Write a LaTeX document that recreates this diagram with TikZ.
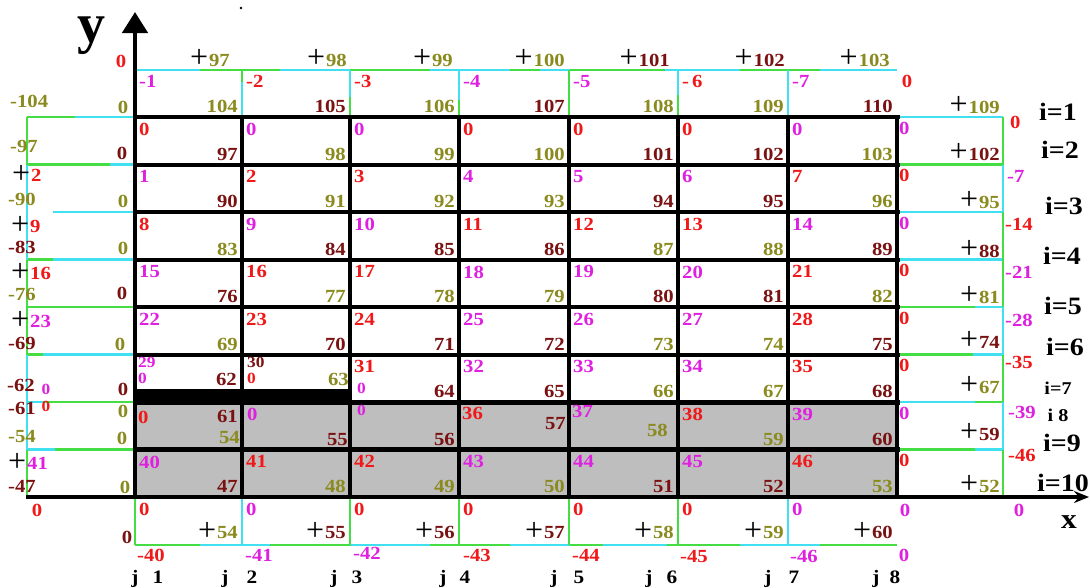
\documentclass[tikz,border=0pt]{standalone}
\usepackage{fontspec}
\usetikzlibrary{arrows.meta}
\newfontfamily\nf[FakeStretch=1.12]{Liberation Serif Bold}
\newfontfamily\pf{Liberation Serif}
\definecolor{rd}{HTML}{F01818}
\definecolor{mg}{HTML}{E020E0}
\definecolor{ol}{HTML}{8A8A1E}
\definecolor{mr}{HTML}{7A1212}
\definecolor{cy}{HTML}{40E0F0}
\definecolor{gn}{HTML}{44DD44}
\definecolor{gy}{HTML}{BEBEBE}
\newcommand\plusmark{{\pf\fontsize{32}{32}\selectfont\color{black}\lower1.5pt\hbox{+}\kern1pt}}
\newcommand\colx[1]{\ifcase#1\or135\or242\or350\or459\or569\or678\or788\or897\fi}
\newcommand\cell[6]{%
  \edef\xl{\colx{#1}}%
  \edef\xr{\colx{\numexpr#1+1\relax}}%
  \pgfmathsetmacro\yt{69.5+47.5*#2}%
  \pgfmathsetmacro\yb{\yt+47.5}%
  \node[lbl,text=#4,anchor=north west] (a#1-#2) at (\xl+4,\yt+6) {#3};%
  \node[lbl,text=#6,anchor=south east] (b#1-#2) at (\xr-4,\yb-4) {#5};%
}
\begin{document}
\begin{tikzpicture}[x=1pt,y=-1pt,
  lbl/.style={inner sep=0pt,font=\nf\fontsize{18.5}{18.5}\selectfont},
  sml/.style={inner sep=0pt,font=\nf\fontsize{15.5}{15.5}\selectfont},
  big/.style={inner sep=0pt,font=\nf\fontsize{25}{25}\selectfont},
  mid/.style={inner sep=0pt,font=\nf\fontsize{18}{18}\selectfont},
  jl/.style={inner sep=0pt,font=\nf\fontsize{19}{19}\selectfont},
  cl/.style={line width=2.5pt},
  blk/.style={line width=4pt,black},
  blkv/.style={line width=4.5pt,black}]
\useasboundingbox (0,0) rectangle (1091,587);
\fill[white] (0,0) rectangle (1091,587);
% gray region
\fill[gy] (135,402) rectangle (897,497);
% coloured lines: top row
\foreach \a/\b/\c in {135/200/cy,200/280/gn,280/350/cy,350/430/gn,430/510/cy,510/540/gn,540/570/cy,570/665/gn,665/740/cy,740/820/gn,820/897/cy}
  \draw[cl,\c] (\a,70) -- (\b,70);
\foreach \x/\a/\b/\c in {242/70/82/gn,242/82/117/cy,350/70/97/cy,350/97/117/gn,459/70/100/cy,459/100/117/gn,569/70/117/gn,678/70/95/cy,678/95/117/gn,788/70/117/cy}
  \draw[cl,\c] (\x,\a) -- (\x,\b);
% left column
\foreach \y/\a/\b/\c in {117/27/75/gn,117/75/133/cy,164.5/27/110/gn,164.5/110/133/cy,212/53/133/cy,259.5/27/53/gn,259.5/53/133/cy,307/27/133/gn,354.5/27/43/gn,354.5/43/133/cy,402/27/43/cy,402/43/133/gn,449.5/27/55/cy,449.5/55/133/gn}
  \draw[cl,\c] (\a,\y) -- (\b,\y);
\foreach \a/\b/\c in {117/164.5/gn,164.5/259.5/cy,259.5/354.5/gn,354.5/449.5/cy,449.5/497/gn}
  \draw[cl,\c] (27,\a) -- (27,\b);
% right column
\foreach \y/\a/\b/\c in {117/899/1003/cy,164.5/899/1003/gn,212/899/1003/cy,259.5/899/1003/cy,307/899/975/gn,307/975/1003/cy,354.5/899/973/gn,354.5/973/1003/cy,402/899/975/cy,402/975/1003/gn,449.5/899/975/gn,449.5/975/1003/cy}
  \draw[cl,\c] (\a,\y) -- (\b,\y);
\foreach \a/\b/\c in {117/164.5/gn,164.5/212/cy,212/307/gn,307/354.5/cy,354.5/402/gn,402/449.5/cy,449.5/497/gn}
  \draw[cl,\c] (1003,\a) -- (1003,\b);
% bottom row
\foreach \a/\b/\c in {135/200/gn,200/270/cy,270/350/gn,350/430/cy,430/510/gn,510/570/cy,570/603/gn,603/667/cy,667/740/gn,740/820/cy,820/897/gn}
  \draw[cl,\c] (\a,545) -- (\b,545);
\foreach \x/\c in {135/gn,242/cy,350/gn,459/gn,569/gn,678/gn,788/cy}
  \draw[cl,\c] (\x,497) -- (\x,545);
% black grid
\foreach \k in {1,...,6}
  \draw[blk] (133,{69.5+47.5*\k}) -- (899.5,{69.5+47.5*\k});
\foreach \k in {7,8}
  \draw[blk,line width=5pt] (133,{69.5+47.5*\k}) -- (899.5,{69.5+47.5*\k});
\foreach \x in {242,350,459,569,678,788,897}
  \draw[blkv] (\x,115) -- (\x,499);
\fill[black] (133,389) rectangle (350,403);
% axes
\draw[line width=4.5pt,-{Triangle[width=25pt,length=21pt]}] (135,499) -- (135,12);
\draw[line width=4.5pt,-{Stealth[length=15pt,width=12pt]}] (26,497) -- (1089,497);
\fill[black] (241,8) circle (1.3pt);
\node[inner sep=0pt,font=\pf\bfseries\fontsize{56}{56}\selectfont] (ylab) at (91,36) {y};
\node[inner sep=0pt,font=\nf\fontsize{28}{28}\selectfont] (xlab) at (1069,522) {x};
% top row cells
\cell{1}{0}{-1}{mg}{104}{ol}
\cell{2}{0}{-2}{rd}{105}{mr}
\cell{3}{0}{-3}{rd}{106}{ol}
\cell{4}{0}{-4}{mg}{107}{mr}
\cell{5}{0}{-5}{mg}{108}{ol}
\cell{6}{0}{-\,6}{rd}{109}{ol}
\cell{7}{0}{-7}{mg}{110}{mr}
% row 1
\cell{1}{1}{0}{rd}{97}{mr}
\cell{2}{1}{0}{mg}{98}{ol}
\cell{3}{1}{0}{mg}{99}{ol}
\cell{4}{1}{0}{rd}{100}{ol}
\cell{5}{1}{0}{rd}{101}{mr}
\cell{6}{1}{0}{rd}{102}{mr}
\cell{7}{1}{0}{mg}{103}{ol}
% row 2
\cell{1}{2}{1}{mg}{90}{mr}
\cell{2}{2}{2}{rd}{91}{ol}
\cell{3}{2}{3}{rd}{92}{ol}
\cell{4}{2}{4}{mg}{93}{ol}
\cell{5}{2}{5}{mg}{94}{mr}
\cell{6}{2}{6}{mg}{95}{mr}
\cell{7}{2}{7}{rd}{96}{ol}
% row 3
\cell{1}{3}{8}{rd}{83}{ol}
\cell{2}{3}{9}{mg}{84}{mr}
\cell{3}{3}{10}{mg}{85}{mr}
\cell{4}{3}{11}{rd}{86}{mr}
\cell{5}{3}{12}{rd}{87}{ol}
\cell{6}{3}{13}{rd}{88}{ol}
\cell{7}{3}{14}{mg}{89}{mr}
% row 4
\cell{1}{4}{15}{mg}{76}{mr}
\cell{2}{4}{16}{rd}{77}{ol}
\cell{3}{4}{17}{rd}{78}{ol}
\cell{4}{4}{18}{mg}{79}{ol}
\cell{5}{4}{19}{mg}{80}{mr}
\cell{6}{4}{20}{mg}{81}{mr}
\cell{7}{4}{21}{rd}{82}{ol}
% row 5
\cell{1}{5}{22}{mg}{69}{ol}
\cell{2}{5}{23}{rd}{70}{mr}
\cell{3}{5}{24}{rd}{71}{mr}
\cell{4}{5}{25}{mg}{72}{mr}
\cell{5}{5}{26}{mg}{73}{ol}
\cell{6}{5}{27}{mg}{74}{ol}
\cell{7}{5}{28}{rd}{75}{mr}
% row 6
\node[sml,text=mg,anchor=north west] (a1-6) at (138,357) {29};
\node[sml,text=mg,anchor=north west] (c1-6) at (138,373) {0};
\node[lbl,text=mr,anchor=south east] (b1-6) at (237,386) {62};
\node[sml,text=mr,anchor=north west] (a2-6) at (247,357) {30};
\node[sml,text=rd,anchor=north west] (c2-6) at (247,373) {0};
\node[lbl,text=ol,anchor=south east] (b2-6) at (349,386) {63};
\cell{3}{6}{31}{rd}{64}{mr}
\node[sml,text=mg,anchor=north west] (c3-6) at (357,383) {0};
\cell{4}{6}{32}{mg}{65}{mr}
\cell{5}{6}{33}{mg}{66}{ol}
\cell{6}{6}{34}{mg}{67}{ol}
\cell{7}{6}{35}{rd}{68}{mr}
% row 7
\node[lbl,text=rd,anchor=north west] (a1-7) at (138,411) {0};
\node[lbl,text=mr,anchor=north east] (c1-7) at (238,410) {61};
\node[lbl,text=ol,anchor=south east] (b1-7) at (240,444) {54};
\node[lbl,text=mg,anchor=north west] (a2-7) at (247,408) {0};
\node[lbl,text=mr,anchor=south east] (b2-7) at (348,446) {55};
\node[sml,text=mg,anchor=north west] (a3-7) at (357,405) {0};
\node[lbl,text=mr,anchor=south east] (b3-7) at (455,446) {56};
\node[lbl,text=rd,anchor=north west] (a4-7) at (462,407) {36};
\node[lbl,text=mr,anchor=south east] (b4-7) at (566,430) {57};
\node[lbl,text=mg,anchor=north west] (a5-7) at (572,405) {37};
\node[lbl,text=ol,anchor=south east] (b5-7) at (668,437) {58};
\cell{6}{7}{38}{rd}{59}{ol}
\cell{7}{7}{39}{mg}{60}{mr}
% row 8
\cell{1}{8}{40}{mg}{47}{mr}
\cell{2}{8}{41}{rd}{48}{ol}
\cell{3}{8}{42}{rd}{49}{ol}
\cell{4}{8}{43}{mg}{50}{ol}
\cell{5}{8}{44}{mg}{51}{mr}
\cell{6}{8}{45}{mg}{52}{mr}
\cell{7}{8}{46}{rd}{53}{ol}
% bottom row
\cell{1}{9}{0}{rd}{\plusmark54}{ol}
\cell{2}{9}{0}{mg}{\plusmark55}{mr}
\cell{3}{9}{0}{rd}{\plusmark56}{mr}
\cell{4}{9}{0}{rd}{\plusmark57}{mr}
\cell{5}{9}{0}{rd}{\plusmark58}{ol}
\cell{6}{9}{0}{rd}{\plusmark59}{ol}
\cell{7}{9}{0}{mg}{\plusmark60}{mr}
% top labels
\foreach \r/\t/\c [count=\n] in {230/97/ol,347/98/ol,453/99/ol,565/100/ol,670/101/mr,785/102/mr,890/103/ol}
  \node[lbl,text=\c,anchor=base east] (top\n) at (\r,66) {\plusmark\t};
% right column labels
\foreach \t/\c/\yy [count=\n] in {109/ol/113,102/mr/160,95/ol/208,88/mr/257,81/ol/303,74/mr/348,67/ol/393,59/mr/440,52/ol/492}
  \node[lbl,text=\c,anchor=base east] (rc\n) at (1000,\yy) {\plusmark\t};
\foreach \c [count=\k] in {mg,rd,mg,rd,rd,rd,mg,rd}
  \node[lbl,text=\c,anchor=north west] (rz\k) at (899,{69.5+47.5*\k+4.5}) {0};
\foreach \t/\c/\xx/\yy [count=\n] in {0/rd/1010/122,-7/mg/1007/176,-14/rd/1005/224,-21/mg/1005/272,-28/mg/1005/320,-35/rd/1005/362,-39/mg/1008/412,-46/rd/1008/455}
  \node[lbl,text=\c,anchor=west] (re\n) at (\xx,\yy) {\t};
% row labels
\foreach \t/\xx/\yy [count=\n] in {i=1/1058/112,i=2/1060/150,i=3/1064/206,i=4/1062/256,i=5/1063/306,i=6/1065/347,i=9/1062/443,i=10/1063/483}
  \node[big] (il\n) at (\xx,\yy) {\t};
\node[mid] (il7) at (1058,388) {i=7};
\node[mid] (il8) at (1058,415) {i\ 8};
% left column labels
\foreach \t/\c/\xx/\yy [count=\n] in {-104/ol/10/101,-97/ol/10/146,-90/ol/8/199,-83/mr/8/247,-76/ol/8/294,-69/mr/8/343,-62/mr/7/385,-61/mr/8/408,-54/ol/8/436,-47/mr/8/486}
  \node[lbl,text=\c,anchor=west] (le\n) at (\xx,\yy) {\t};
\foreach \t/\c/\xx/\yy [count=\n] in {2/rd/12/174,9/rd/11/225,16/rd/11/272,23/mg/11/320,41/mg/8/462}
  \node[lbl,text=\c,anchor=west] (lp\n) at (\xx,\yy) {\plusmark\t};
\node[sml,text=mg] (lq1) at (46,389) {0};
\node[sml,text=rd] (lq2) at (46,406) {0};
\foreach \c/\xx/\yy [count=\n] in {rd/121/61,ol/123/107,mr/122/153,ol/123/201,ol/123/248,mr/122/293,ol/120/344,mr/123/389,ol/123/411,ol/122/438,ol/125/487,mr/127/537}
  \node[lbl,text=\c] (lz\n) at (\xx,\yy) {0};
% bottom labels
\foreach \t/\c/\xx/\yy [count=\n] in {-40/rd/137/555,-41/mg/245/555,-42/mg/353/553,-43/rd/463/555,-44/rd/572/555,-45/rd/680/556,-46/mg/790/556}
  \node[lbl,text=\c,anchor=west] (be\n) at (\xx,\yy) {\t};
\node[lbl,text=rd] (m1) at (907,81) {0};
\node[lbl,text=mg] (m2) at (905,510) {0};
\node[lbl,text=mg] (m3) at (904,555) {0};
\node[lbl,text=mg] (m4) at (1019,510) {0};
\node[lbl,text=rd] (m5) at (37,510) {0};
% j labels
\foreach \a/\b [count=\n] in {135/158,225/252,334/357,443/465,554/579,649/672,768/794,876/895}{
  \node[jl,anchor=base] (j\n) at (\a,583) {j};
  \node[jl,anchor=base] (jn\n) at (\b,583) {\n};
}
\end{tikzpicture}
\end{document}
